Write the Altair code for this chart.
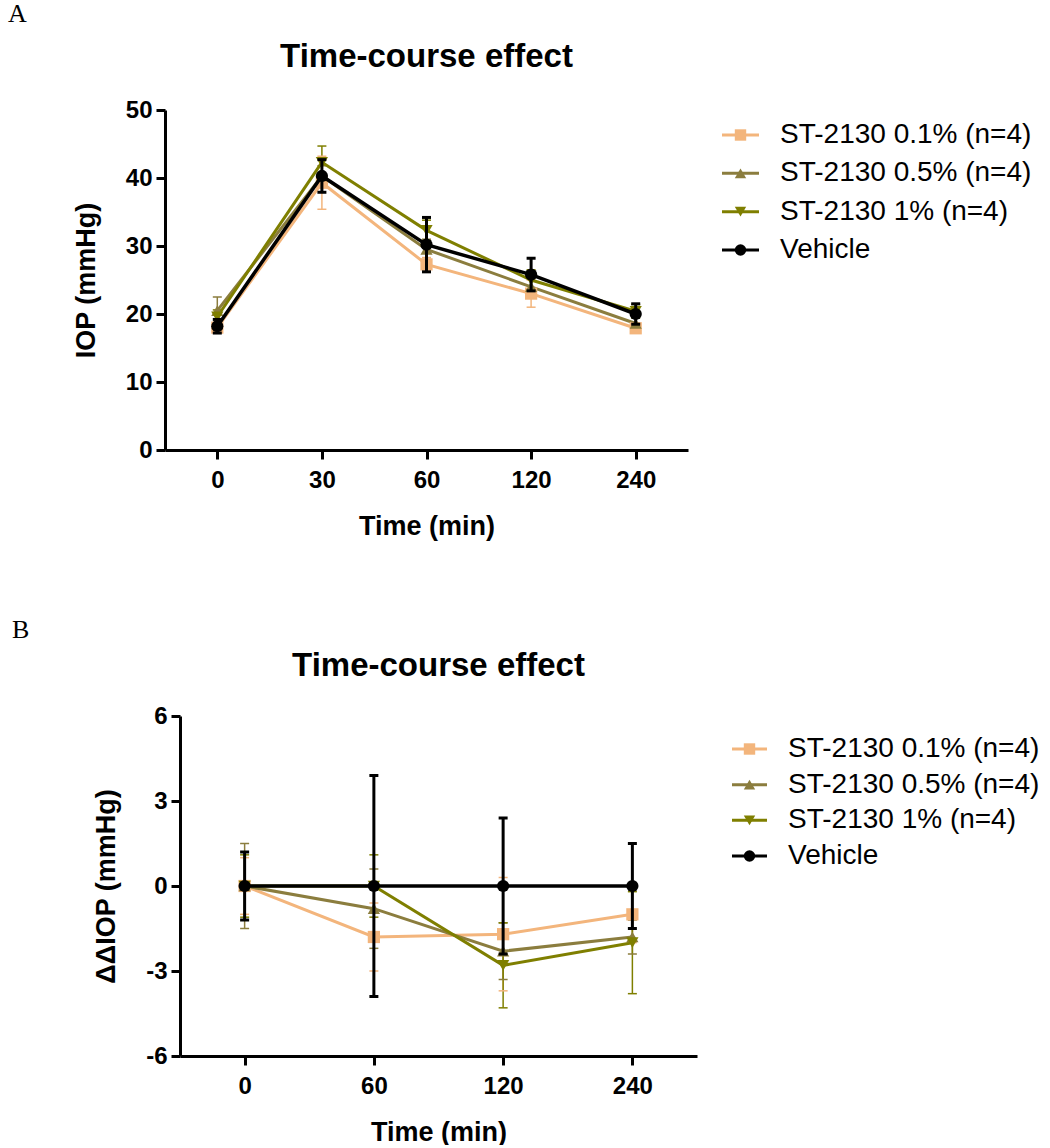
import altair as alt
import pandas as pd

# Series, colours and marker shapes
SERIES = ["ST-2130 0.1% (n=4)", "ST-2130 0.5% (n=4)", "ST-2130 1% (n=4)", "Vehicle"]
COLORS = ["#F3B57C", "#8B7D3E", "#7F7F00", "#000000"]
SHAPES = ["square", "triangle-up", "triangle-down", "circle"]

# Panel A: IOP (mmHg), mean and SEM per time point
times_a = ["0", "30", "60", "120", "240"]
iop_mean = {
    SERIES[0]: [18.0, 39.3, 27.3, 23.0, 17.9],
    SERIES[1]: [20.5, 40.3, 29.5, 24.0, 18.6],
    SERIES[2]: [19.6, 42.3, 32.3, 25.0, 20.4],
    SERIES[3]: [18.2, 40.3, 30.2, 25.8, 20.0],
}
iop_sem = {
    SERIES[0]: [0.6, 3.9, 1.0, 2.0, 0.5],
    SERIES[1]: [2.0, 1.5, 1.5, 1.5, 1.0],
    SERIES[2]: [1.0, 2.4, 1.5, 1.5, 1.0],
    SERIES[3]: [1.0, 2.4, 4.0, 2.4, 1.5],
}

# Panel B: delta-delta IOP (mmHg), mean and SEM per time point
times_b = ["0", "60", "120", "240"]
ddiop_mean = {
    SERIES[0]: [0.0, -1.8, -1.7, -1.0],
    SERIES[1]: [0.0, -0.8, -2.3, -1.8],
    SERIES[2]: [0.0, 0.0, -2.8, -2.0],
    SERIES[3]: [0.0, 0.0, 0.0, 0.0],
}
ddiop_sem = {
    SERIES[0]: [1.0, 1.2, 2.0, 1.0],
    SERIES[1]: [1.5, 1.4, 1.0, 0.6],
    SERIES[2]: [1.1, 1.1, 1.5, 1.8],
    SERIES[3]: [1.2, 3.9, 2.4, 1.5],
}

TITLE = "Time-course effect"
FONT = "Liberation Sans"


def long_table(times, means, sems):
    rows = []
    for s in SERIES:
        for t, m, e in zip(times, means[s], sems[s]):
            rows.append({"series": s, "time": t, "mean": m, "lo": m - e, "hi": m + e})
    return pd.DataFrame(rows)


def axis_style(**kw):
    return alt.Axis(
        domainColor="black", domainWidth=3, tickColor="black", tickWidth=3,
        tickSize=9, grid=False, labelFont=FONT, labelFontSize=24,
        labelFontWeight="bold", labelColor="black", titleFont=FONT,
        titleFontSize=27, titleFontWeight="bold", titleColor="black", **kw
    )


def color_enc():
    return alt.Color("series:N", scale=alt.Scale(domain=SERIES, range=COLORS), legend=None)


def shape_enc():
    return alt.Shape("series:N", scale=alt.Scale(domain=SERIES, range=SHAPES), legend=None)


def key(rows, line_x0, line_x1, label_x):
    """Series key drawn beside the plot: line + marker + label per series."""
    kd = alt.Chart(pd.DataFrame({"series": SERIES}))
    ky = alt.Y("series:N", sort=SERIES, axis=None,
               scale=alt.Scale(type="point", padding=0, range=rows))
    seg = kd.mark_rule(strokeWidth=3).encode(
        x=alt.value(line_x0), x2=alt.value(line_x1), y=ky, color=color_enc())
    mk = kd.mark_point(filled=True, size=130, opacity=1).encode(
        x=alt.value((line_x0 + line_x1) / 2), y=ky, color=color_enc(), shape=shape_enc())
    txt = kd.mark_text(font=FONT, fontSize=28, align="left", baseline="middle",
                       color="black").encode(x=alt.value(label_x), y=ky, text="series:N")
    return alt.layer(seg, mk, txt)


def panel(df, times, ydom, yvals, ytitle, x0, plot_w, letter, letter_x, letter_y,
          title_y, key_rows, key_x0, key_x1, key_lx):
    """One panel; the plot frame starts x0 px right of the panel origin."""
    x = alt.X("time:O", sort=times,
              scale=alt.Scale(type="point", padding=0.5, range=[x0, x0 + plot_w]),
              axis=axis_style(title="Time (min)", labelAngle=0, labelPadding=9,
                              titlePadding=21))
    y_axis = axis_style(title=ytitle, values=yvals, labelPadding=4, offset=-x0,
                        titlePadding=25, labelExpr="'' + datum.value")
    yscale = alt.Scale(domain=ydom, nice=False, zero=False)

    base = alt.Chart(df)
    layers = []
    for group, bar_w, line_w in (("drug", 1.5, 3), ("veh", 3, 3.5)):
        cond = "datum.series !== 'Vehicle'" if group == "drug" else "datum.series === 'Vehicle'"
        g = base.transform_filter(cond)
        rule = g.mark_rule(strokeWidth=bar_w).encode(
            x=x, y=alt.Y("lo:Q", scale=yscale, axis=y_axis), y2="hi:Q", color=color_enc())
        cap_lo = g.mark_tick(thickness=bar_w, size=9, opacity=1).encode(
            x=x, y=alt.Y("lo:Q", scale=yscale), color=color_enc())
        cap_hi = g.mark_tick(thickness=bar_w, size=9, opacity=1).encode(
            x=x, y=alt.Y("hi:Q", scale=yscale), color=color_enc())
        line = g.mark_line(strokeWidth=line_w).encode(
            x=x, y=alt.Y("mean:Q", scale=yscale), color=color_enc(), detail="series:N")
        pts = g.mark_point(filled=True, size=150, opacity=1).encode(
            x=x, y=alt.Y("mean:Q", scale=yscale), color=color_enc(), shape=shape_enc())
        layers += [rule, cap_lo, cap_hi, line, pts]

    data_layer = alt.layer(*layers)

    labels = pd.DataFrame({"label": [letter]})
    tag = alt.Chart(labels).mark_text(
        font="Liberation Serif", fontSize=26, align="left", baseline="top", color="black"
    ).encode(text="label:N", x=alt.value(letter_x), y=alt.value(letter_y))
    heading = alt.Chart(pd.DataFrame({"title": [TITLE]})).mark_text(
        font=FONT, fontSize=33, fontWeight="bold", align="center",
        baseline="alphabetic", color="black"
    ).encode(text="title:N", x=alt.value(x0 + plot_w / 2), y=alt.value(title_y))

    return alt.layer(
        data_layer, key(key_rows, key_x0, key_x1, key_lx), tag, heading
    ).resolve_scale(y="independent").properties(width=x0 + plot_w, height=340)


df_a = long_table(times_a, iop_mean, iop_sem)
df_b = long_table(times_b, ddiop_mean, ddiop_sem)

panel_a = panel(df_a, times_a, [0, 50], [0, 10, 20, 30, 40, 50], "IOP (mmHg)", 0, 523,
                "A", -157, -109, -43, [25, 140], 557, 594, 615)
panel_b = panel(df_b, times_b, [-6, 6], [-6, -3, 0, 3, 6], "ΔΔIOP (mmHg)", 15, 517,
                "B", -153, -99, -40, [33, 140], 567, 602, 623)

chart = alt.concat(panel_a, panel_b, columns=1, spacing=78).properties(
    padding={"left": 8, "top": 1, "right": 0, "bottom": 0}, background="white"
).configure_view(strokeWidth=0)

chart.save("out.html", embed_options={"renderer": "svg", "actions": False})
